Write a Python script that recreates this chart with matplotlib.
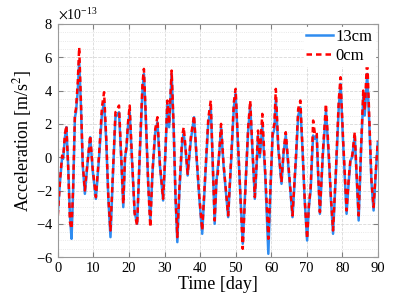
# 加速度の時系列を描画

import numpy as np
import matplotlib.pyplot as plt
from matplotlib.ticker import ScalarFormatter, MultipleLocator

FILE_NAME = "out.png"

# 時刻 [day]
days = [0.0, 0.6, 1.2, 1.5, 2.0, 2.4, 2.9, 3.4, 3.85, 4.3, 4.8, 5.1, 5.6, 6.0, 6.5,
        7.0, 7.6, 8.3, 9.1, 9.8, 10.7, 11.6, 12.4, 13.0, 13.6, 14.2, 14.8, 15.4,
        16.2, 16.6, 17.2, 17.8, 18.4, 18.9, 19.3, 19.7, 20.2, 20.8, 21.6, 22.3,
        23.2, 23.8, 24.2, 24.7, 25.4, 26.0, 26.6, 27.4, 28.0, 28.7, 29.6, 30.2,
        30.8, 31.3, 32.0, 32.6, 33.1, 33.6, 34.2, 35.0, 35.4, 35.9, 36.5, 37.4,
        38.3, 39.0, 39.8, 40.6, 41.5, 42.3, 43.0, 43.5, 44.1, 44.6, 45.0, 45.4,
        45.9, 46.6, 47.9, 48.8, 49.5, 50.0, 50.6, 51.4, 52.0, 52.7, 53.5, 54.1,
        54.7, 55.4, 55.9, 56.3, 56.8, 57.5, 58.3, 59.2, 59.8, 60.4, 60.9, 61.3,
        62.0, 62.9, 63.5, 64.1, 65.0, 66.0, 67.0, 67.6, 68.2, 68.8, 69.4, 70.1,
        70.6, 71.1, 71.5, 71.8, 72.3, 72.8, 73.2, 73.7, 74.5, 75.4, 76.2, 76.8,
        77.4, 78.2, 79.0, 79.5, 80.2, 81.2, 81.8, 82.3, 82.8, 83.5, 84.0, 84.6,
        85.3, 85.9, 86.3, 87.0, 87.6, 88.2, 88.8, 89.4, 90.0]

# 13cm の加速度 [1e-13 m/s^2]
acc_13cm = [-3.3, -1.5, 0.0, -0.1, 1.2, 1.8, -0.5, -3.5, -4.9, -2.0, 2.4, 2.7, 4.0, 5.8, 3.0,
            -0.5, -2.2, -0.5, 1.2, -0.8, -2.5, 0.0, 2.6, 3.3, 1.0, -2.5, -4.8, -1.5,
            2.4, 2.5, 2.7, 0.0, -3.0, 0.0, 0.5, 1.8, 2.7, 0.0, -3.3, -4.0,
            1.0, 4.0, 5.0, 2.5, -1.5, -3.8, -1.0, 1.5, 2.1, -0.5, -2.6, 0.0,
            3.2, 1.8, 5.0, 1.5, -2.5, -5.1, -2.0, 1.0, 1.4, 0.5, -1.1, 1.0,
            2.4, 0.0, -2.5, -4.6, -1.0, 2.0, 3.0, 0.0, -4.0, -1.5, -0.6, 0.2,
            1.8, -0.5, -3.6, 0.0, 3.0, 3.8, 1.0, -2.5, -5.2, -2.0, 1.5, 3.1,
            0.5, -2.5, -0.5, 1.3, 0.0, 1.9, -1.0, -5.8, -2.0, 1.3, 1.7, 3.5,
            0.5, -1.6, 0.3, 1.3, -1.0, -3.6, 0.0, 2.5, 3.0, 0.5, -2.5, -5.0,
            -3.0, -2.0, 0.0, 1.3, 1.1, 1.3, -1.0, -3.4, 0.0, 2.8, 0.0, -2.5,
            -4.6, -1.0, 3.0, 4.4, 1.0, -3.4, -1.5, -0.2, 0.0, 1.3, -1.0, -3.8,
            0.5, 3.6, 2.5, 5.0, 2.0, -1.5, -3.2, -1.0, 0.9]

# 0cm の加速度 [1e-13 m/s^2]
acc_0cm = [-3.5, -1.4, 0.1, 0.0, 1.4, 1.9, -0.6, -3.9, -4.3, -1.8, 2.6, 2.9, 4.5, 6.6, 3.3,
           -0.4, -2.0, -0.4, 1.3, -0.7, -2.4, 0.2, 3.0, 3.9, 1.2, -2.4, -4.4, -1.3,
           2.7, 2.8, 3.1, 0.2, -2.8, 0.1, 0.6, 2.0, 3.1, 0.2, -3.4, -4.1,
           1.2, 4.4, 5.3, 2.7, -1.6, -4.2, -0.9, 1.7, 2.4, -0.4, -2.5, 0.1,
           3.4, 2.0, 5.2, 1.6, -2.4, -4.8, -1.8, 1.3, 1.8, 0.6, -1.0, 1.2,
           2.5, 0.1, -2.4, -4.4, -0.9, 2.3, 3.4, 0.2, -3.8, -1.3, -1.0, 0.4,
           2.0, -0.4, -3.5, 0.2, 3.3, 4.1, 1.2, -2.6, -5.5, -2.1, 1.7, 3.4,
           0.6, -2.4, -0.4, 1.6, 0.1, 2.6, -0.8, -4.9, -1.8, 1.5, 2.0, 4.1,
           0.6, -1.5, 0.4, 1.5, -0.9, -3.5, 0.2, 2.9, 3.4, 0.6, -2.4, -4.9,
           -2.9, -1.8, 0.3, 2.2, 1.4, 1.5, -0.9, -3.3, 0.2, 3.2, 0.2, -2.4,
           -4.4, -0.8, 3.4, 4.8, 1.2, -3.2, -1.3, -0.1, 0.1, 1.5, -0.9, -3.5,
           0.7, 4.0, 2.8, 6.0, 2.3, -1.4, -3.0, -0.9, 1.0]

plt.rcParams["font.family"] = ["Liberation Serif", "DejaVu Serif"]
plt.rcParams["mathtext.fontset"] = "stix"
plt.rcParams["axes.unicode_minus"] = False


def main():
    fig = plt.figure(figsize=(3.99, 2.99), dpi=100)
    ax = fig.add_axes([0.145, 0.14, 0.802, 0.78])

    t = np.array(days)
    ax.plot(t, np.array(acc_13cm) * 1e-13, color="#2f8cf0", lw=1.8, label="13cm")
    ax.plot(t, np.array(acc_0cm) * 1e-13, color="red", lw=1.8, ls=(0, (2.2, 1.6)), label="0cm")

    ax.set_xlim(0, 90)
    ax.set_ylim(-6e-13, 8e-13)
    ax.set_xticks(np.arange(0, 91, 10))
    ax.set_yticks(np.arange(-6, 9, 2) * 1e-13)
    ax.yaxis.set_minor_locator(MultipleLocator(0.5e-13))

    fmt = ScalarFormatter(useMathText=True)
    fmt.set_powerlimits((0, 0))
    ax.yaxis.set_major_formatter(fmt)
    ax.yaxis.get_offset_text().set_fontsize(10)

    # グリッド
    ax.grid(which="major", color="#d8d8d8", ls="--", lw=0.6)
    ax.grid(which="minor", axis="y", color="#e2e2e2", ls=":", lw=0.6)

    ax.tick_params(which="both", direction="in", top=True, right=True,
                   labelsize=10.5, color="#808080")
    ax.tick_params(which="minor", length=0)
    for s in ax.spines.values():
        s.set_color("#9a9a9a")

    ax.set_xlabel("Time [day]", fontsize=13, labelpad=1)
    ax.set_ylabel("Acceleration [m/s$^2$]", fontsize=13, labelpad=1)

    leg = ax.legend(loc="upper right", fontsize=12, frameon=True, fancybox=False,
                    borderpad=0.1, handlelength=1.6, handletextpad=0.2,
                    labelspacing=0.2, borderaxespad=0.2)
    leg.get_frame().set_edgecolor("white")
    leg.get_frame().set_alpha(1)

    plt.savefig(FILE_NAME)


if __name__ == "__main__":
    main()
